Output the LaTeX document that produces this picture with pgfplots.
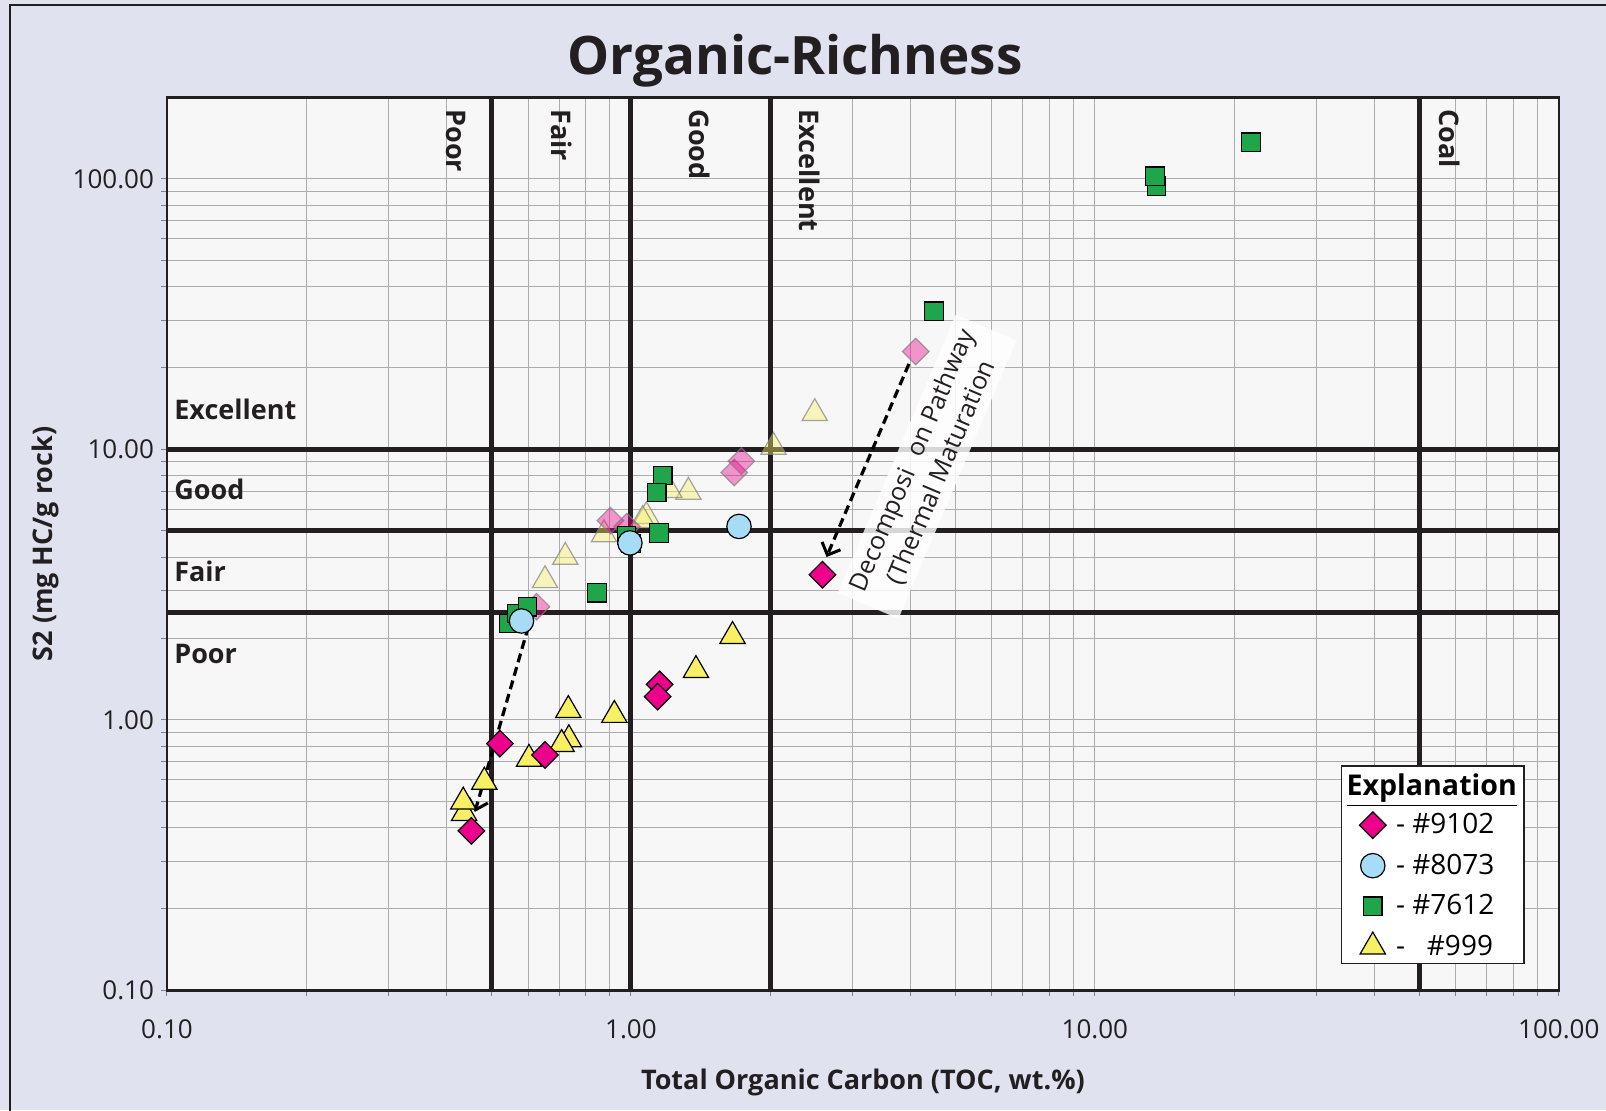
\documentclass[border=0pt]{standalone}
\usepackage{fontspec}
\setmainfont{Open Sans}
\usepackage{pgfplots}
\pgfplotsset{compat=1.18}
\usetikzlibrary{arrows.meta}

\definecolor{cbg}{RGB}{225,226,239}
\definecolor{cplot}{RGB}{247,247,247}
\definecolor{cgrid}{RGB}{172,172,172}
\definecolor{cdark}{RGB}{35,31,32}
\definecolor{cpink}{RGB}{236,0,140}
\definecolor{cblue}{RGB}{166,220,245}
\definecolor{cgreen}{RGB}{31,166,74}
\definecolor{cyellow}{RGB}{248,240,100}

\pgfplotsset{
  pinkstyle/.style={only marks, mark=square*, mark size=4.7pt, mark options={rotate=45, fill=cpink, draw=black, line width=0.6pt}},
  pinkghost/.style={only marks, mark=square*, mark size=4.7pt, mark options={rotate=45, fill=cpink, fill opacity=0.4, draw=gray, draw opacity=0.7, line width=0.6pt}},
  bluestyle/.style={only marks, mark=*, mark size=6.1pt, mark options={fill=cblue, draw=black, line width=0.6pt}},
  greenstyle/.style={only marks, mark=square*, mark size=4.6pt, mark options={fill=cgreen, draw=black, line width=0.6pt}},
  yellowstyle/.style={only marks, mark=triangle*, mark size=7.3pt, mark options={fill=cyellow, draw=black, line width=0.6pt}},
  yellowghost/.style={only marks, mark=triangle*, mark size=7.3pt, mark options={fill=cyellow, fill opacity=0.42, draw=gray, draw opacity=0.7, line width=0.6pt}},
}

\begin{document}
\begin{tikzpicture}
\useasboundingbox (0,0) rectangle (803pt,555pt);
\fill[cbg] (0,0) rectangle (803pt,555pt);
\draw[cdark, line width=1.2pt] (5pt,-2pt) -- (5pt,552.5pt) -- (806pt,552.5pt);
\node[font=\bfseries\fontsize{26.5}{32}\selectfont, text=cdark] at (397.5pt,524.5pt) {Organic-Richness};

\begin{axis}[
  at={(83.5pt,59.8pt)}, anchor=south west, scale only axis,
  width=695.9pt, height=446.5pt,
  xmode=log, ymode=log,
  xmin=0.1, xmax=100, ymin=0.1, ymax=200,
  axis background/.style={fill=cplot},
  axis line style={cdark, line width=1.3pt},
  grid=both,
  major grid style={cgrid, line width=0.5pt},
  minor grid style={cgrid, line width=0.5pt},
  xtick={0.1,1,10,100}, xticklabels={0.10,1.00,10.00,100.00},
  ytick={0.1,1,10,100}, yticklabels={0.10,1.00,10.00,100.00},
  minor xtick={0.2,0.3,0.4,0.5,0.6,0.7,0.8,0.9,2,3,4,5,6,7,8,9,20,30,40,50,60,70,80,90},
  minor ytick={0.2,0.3,0.4,0.5,0.6,0.7,0.8,0.9,2,3,4,5,6,7,8,9,20,30,40,50,60,70,80,90},
  xtick pos=bottom, ytick pos=left,
  tick align=outside, major tick length=3pt, minor tick length=3pt,
  tick style={gray, line width=0.5pt},
  ticklabel style={font=\fontsize{13}{15}\selectfont, text=cdark},
  /pgf/number format/assume math mode=true,
  xticklabel style={yshift=-8pt},
  xlabel={Total Organic Carbon (TOC, wt.\%)},
  ylabel={S2 (mg HC/g rock)},
  label style={font=\bfseries\fontsize{13.5}{16}\selectfont, text=cdark},
  xlabel style={at={(axis description cs:0.5,-0.103)}, anchor=center},
  ylabel style={at={(axis description cs:-0.087,0.5)}, anchor=center},
  clip=false,
  legend cell align=left,
  legend style={draw=none, fill=none, at={(axis description cs:0.8565,0.203)}, anchor=north west,
    font=\fontsize{14}{16}\selectfont, row sep=4.6pt, inner sep=0pt},
]

% threshold lines
\draw[cdark, line width=2.5pt] (axis cs:0.5,0.1) -- (axis cs:0.5,200);
\draw[cdark, line width=2.5pt] (axis cs:1,0.1) -- (axis cs:1,200);
\draw[cdark, line width=2.5pt] (axis cs:2,0.1) -- (axis cs:2,200);
\draw[cdark, line width=2.5pt] (axis cs:50,0.1) -- (axis cs:50,200);
\draw[cdark, line width=2.5pt] (axis cs:0.1,2.5) -- (axis cs:100,2.5);
\draw[cdark, line width=2.5pt] (axis cs:0.1,5) -- (axis cs:100,5);
\draw[cdark, line width=2.5pt] (axis cs:0.1,10) -- (axis cs:100,10);

% region labels
\begin{scope}[every node/.style={font=\bfseries\fontsize{13.5}{16}\selectfont, text=cdark, inner sep=0pt}]
\node[anchor=west] at (axis cs:0.1035,14) {Excellent};
\node[anchor=west] at (axis cs:0.1035,7.1) {Good};
\node[anchor=west] at (axis cs:0.1035,3.54) {Fair};
\node[anchor=west] at (axis cs:0.1035,1.745) {Poor};
\node[anchor=west, rotate=-90] at (axis cs:0.42,181) {Poor};
\node[anchor=west, rotate=-90] at (axis cs:0.709,181) {Fair};
\node[anchor=west, rotate=-90] at (axis cs:1.409,181) {Good};
\node[anchor=west, rotate=-90] at (axis cs:2.43,181) {Excellent};
\node[anchor=west, rotate=-90] at (axis cs:58.3,181) {Coal};
\end{scope}

% ghost (pre-maturation) points
\addplot[yellowghost, forget plot] coordinates {
(2.49,13.6) (2.03,10.2) (1.33,6.96) (1.21,7.06) (1.08,5.66) (1.06,5.47) (0.875,4.85) (0.722,4.0) (0.653,3.28)};
\addplot[pinkghost, forget plot] coordinates {
(0.903,5.45) (0.98,5.18) (1.67,8.21) (1.73,9.04) (4.11,23.0) (0.626,2.62)};

% #999
\addplot[yellowstyle, forget plot] coordinates {
(1.656,2.04) (1.381,1.526) (0.921,1.042) (0.733,1.086) (0.735,0.847) (0.709,0.813) (0.603,0.717) (0.483,0.590) (0.437,0.452) (0.435,0.498)};
% #7612
\addplot[greenstyle, forget plot] coordinates {
(1.171,8.01) (1.137,6.93) (1.150,4.91) (1.0,4.48) (0.979,4.81) (0.845,2.95) (0.546,2.27) (0.567,2.47) (0.599,2.62) (4.50,32.4) (13.59,93.9) (13.48,102.3) (21.7,136.5)};
% #8073
\addplot[bluestyle, forget plot] coordinates {
(1.71,5.19) (0.995,4.51) (0.581,2.32)};
% #9102
\addplot[pinkstyle, forget plot] coordinates {
(0.453,0.389) (0.522,0.817) (0.653,0.742) (1.153,1.353) (1.142,1.219) (2.587,3.44)};

% pathway arrows
\draw[black, line width=1.6pt, dash pattern=on 4.5pt off 2.5pt, -{Straight Barb[length=5pt,width=10pt,line width=1.5pt]}] (axis cs:3.975,20.7) -- (axis cs:2.64,4.0);
\draw[black, line width=1.6pt, dash pattern=on 4.5pt off 2.5pt, -{Straight Barb[length=5pt,width=10pt,line width=1.5pt]}] (axis cs:0.601,2.21) -- (axis cs:0.461,0.457);

\node[rotate=67, fill=white, fill opacity=0.82, text opacity=1, align=center, text=cdark,
  font=\fontsize{12.5}{15.5}\selectfont, inner xsep=5pt, inner ysep=3pt]
  at (axis cs:4.35,8.63) {Decomposi\hspace{0.6em}on Pathway\\(Thermal Maturation};

% legend box
\draw[cdark, line width=0.7pt, fill=white] (axis description cs:0.844,0.0298) rectangle (axis description cs:0.975,0.2512);
\node[font=\bfseries\fontsize{14.3}{16}\selectfont, text=black] at (axis description cs:0.9087,0.2245) {\underline{Explanation}};

\addlegendimage{pinkstyle}
\addlegendentry{\hspace{3pt}- \#9102}
\addlegendimage{bluestyle}
\addlegendentry{\hspace{3pt}- \#8073}
\addlegendimage{greenstyle}
\addlegendentry{\hspace{3pt}- \#7612}
\addlegendimage{yellowstyle}
\addlegendentry{\hspace{3pt}-\ \ \ \#999}
\end{axis}
\end{tikzpicture}
\end{document}
